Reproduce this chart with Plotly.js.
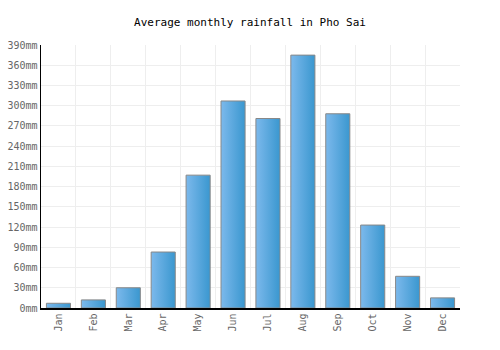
<!DOCTYPE html>
<html>
<head>
<meta charset="utf-8">
<script src="https://cdn.plot.ly/plotly-3.0.1.min.js"></script>
<style>html,body{margin:0;padding:0;background:#fff;}#chart{width:500px;height:350px;}</style>
</head>
<body>
<div id="chart"></div>
<script>
const months = ["Jan","Feb","Mar","Apr","May","Jun","Jul","Aug","Sep","Oct","Nov","Dec"];
const rainfall = [7, 12, 30, 83, 197, 307, 281, 375, 288, 123, 47, 15];
const yTicks = [0,30,60,90,120,150,180,210,240,270,300,330,360,390];

const font = "DejaVu Sans Mono, Liberation Mono, monospace";
const trace = {
  type: "bar",
  x: months,
  y: rainfall,
  marker: {color: "#56a6de", line: {color: "#888888", width: 1}},
  hoverinfo: "none"
};
const layout = {
  width: 500, height: 350,
  margin: {l: 41, r: 40, t: 45, b: 42},
  paper_bgcolor: "#ffffff", plot_bgcolor: "#ffffff",
  title: {text: "Average monthly rainfall in Pho Sai", font: {family: font, size: 11, color: "#000"}, x: 0.5, xanchor: "center", y: 0.937, yanchor: "middle"},
  bargap: 0.31,
  showlegend: false,
  xaxis: {
    type: "category",
    tickson: "boundaries",
    ticks: "", ticklen: 0,
    tickangle: -90,
    tickfont: {family: font, size: 10, color: "#666"},
    showgrid: true, gridcolor: "#eeeeee", gridwidth: 1,
    showline: true, linecolor: "#000", linewidth: 1.5,
    zeroline: false, fixedrange: true
  },
  yaxis: {
    range: [0, 390],
    tickvals: yTicks,
    ticktext: yTicks.map(v => v + "mm"),
    ticks: "",
    tickfont: {family: font, size: 10, color: "#666"},
    showgrid: true, gridcolor: "#eeeeee", gridwidth: 1,
    showline: true, linecolor: "#000", linewidth: 1.5,
    zeroline: false, fixedrange: true
  }
};
Plotly.newPlot("chart", [trace], layout, {staticPlot: true, displayModeBar: false}).then(gd => {
  const svg = gd.querySelector("svg.main-svg");
  const ns = "http://www.w3.org/2000/svg";
  let defs = svg.querySelector("defs");
  if (!defs) { defs = document.createElementNS(ns, "defs"); svg.insertBefore(defs, svg.firstChild); }
  const g = document.createElementNS(ns, "linearGradient");
  g.setAttribute("id", "barGrad");
  g.setAttribute("x1", "0"); g.setAttribute("y1", "0");
  g.setAttribute("x2", "1"); g.setAttribute("y2", "0");
  [["0", "#7cb9ec"], ["1", "#3a97cf"]].forEach(([o, c]) => {
    const s = document.createElementNS(ns, "stop");
    s.setAttribute("offset", o); s.setAttribute("stop-color", c);
    g.appendChild(s);
  });
  defs.appendChild(g);
  gd.querySelectorAll(".barlayer .point path").forEach(p => { p.style.fill = "url(#barGrad)"; });
});
</script>
</body>
</html>
